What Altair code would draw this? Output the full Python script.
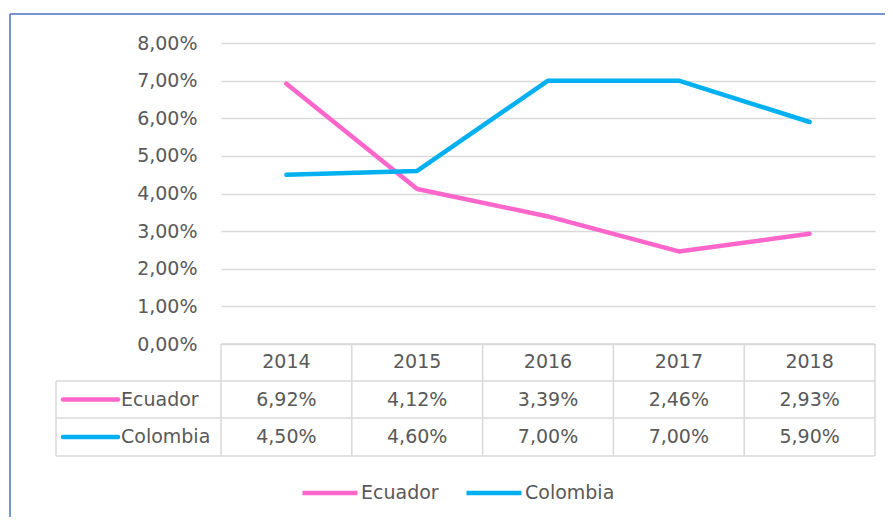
import altair as alt
import pandas as pd

# ---------------- data ----------------
years = ["2014", "2015", "2016", "2017", "2018"]
ecuador = [0.0692, 0.0412, 0.0339, 0.0246, 0.0293]
colombia = [0.0450, 0.0460, 0.0700, 0.0700, 0.0590]
series = ["Ecuador", "Colombia"]
colors = ["#FF66CC", "#00B0F0"]
y_ticks = [0.0, 0.01, 0.02, 0.03, 0.04, 0.05, 0.06, 0.07, 0.08]

# ---------------- style / layout ----------------
W, H = 654, 301
STEP = W / len(years)
FONT = "DejaVu Sans"
FS = 19
TXT = "#595959"
GRID = "#D9D9D9"
BORDER = "#4A72C4"
LBL_LEFT = -165          # left edge of the table's label column
ROW_TOPS = [301, 338, 375, 413]   # header top, row1 top, row2 top, bottom
HEADER_Y = 319
ROW_Y = [356.5, 394]
PCT = "replace(format(datum.value, '.2%'), '.', ',')"

rows = []
for s, vals in zip(series, [ecuador, colombia]):
    for yr, v in zip(years, vals):
        rows.append({"series": s, "year": yr, "value": v})
df = pd.DataFrame(rows)

x_enc = alt.X("year:O", scale=alt.Scale(type="point", padding=0.5, domain=years), axis=None)

lines = alt.Chart(df).mark_line(strokeWidth=4.5, strokeCap="round", strokeJoin="round").encode(
    x=x_enc,
    y=alt.Y(
        "value:Q",
        scale=alt.Scale(domain=[0, 0.08], nice=False),
        axis=alt.Axis(
            values=y_ticks, labelExpr=PCT, domain=False, ticks=False, grid=True,
            gridColor=GRID, gridWidth=1.3, labelPadding=24, labelFont=FONT,
            labelFontSize=FS, labelColor=TXT, title=None,
        ),
    ),
    color=alt.Color(
        "series:N",
        scale=alt.Scale(domain=series, range=colors),
        legend=alt.Legend(
            title=None, orient="none", direction="horizontal", legendX=79, legendY=420,
            symbolType="stroke", symbolSize=3025, symbolStrokeWidth=4.5,
            labelFont=FONT, labelFontSize=FS, labelColor=TXT, labelOffset=1,
            columnPadding=18, padding=0,
        ),
    ),
)

# table grid
vlines = alt.Chart(pd.DataFrame({"year": years})).mark_rule(
    color=GRID, strokeWidth=1.5, xOffset=-STEP / 2
).encode(x=x_enc, y=alt.value(ROW_TOPS[0]), y2=alt.value(ROW_TOPS[-1]))

right_line = alt.Chart(pd.DataFrame({"year": [years[-1]]})).mark_rule(
    color=GRID, strokeWidth=1.5, xOffset=STEP / 2
).encode(x=x_enc, y=alt.value(ROW_TOPS[0]), y2=alt.value(ROW_TOPS[-1]))

left_line = alt.Chart(pd.DataFrame({"year": [years[0]]})).mark_rule(color=GRID, strokeWidth=1.5).encode(
    x=alt.value(LBL_LEFT), y=alt.value(ROW_TOPS[1]), y2=alt.value(ROW_TOPS[-1])
)

hlines = []
for i, yy in enumerate(ROW_TOPS):
    x0 = 0 if i == 0 else LBL_LEFT
    hlines.append(
        alt.Chart(pd.DataFrame({"year": [years[0]]})).mark_rule(color=GRID, strokeWidth=1.5).encode(
            x=alt.value(x0), x2=alt.value(W), y=alt.value(yy)
        )
    )

header = alt.Chart(pd.DataFrame({"year": years})).mark_text(
    font=FONT, fontSize=FS, color=TXT, baseline="middle"
).encode(x=x_enc, y=alt.value(HEADER_Y), text="year:N")

cells = []
for s, col, ry in zip(series, colors, ROW_Y):
    base = alt.Chart(df).transform_filter(alt.datum.series == s)
    cells.append(
        base.transform_calculate(label=PCT).mark_text(
            font=FONT, fontSize=FS, color=TXT, baseline="middle"
        ).encode(x=x_enc, y=alt.value(ry), text="label:N")
    )
    one = alt.Chart(pd.DataFrame({"series": [s]}))
    cells.append(
        one.mark_rule(color=col, strokeWidth=4.5, strokeCap="round").encode(
            x=alt.value(LBL_LEFT + 7), x2=alt.value(LBL_LEFT + 62), y=alt.value(ry)
        )
    )
    cells.append(
        one.mark_text(font=FONT, fontSize=FS, color=TXT, baseline="middle", align="left").encode(
            x=alt.value(LBL_LEFT + 65), y=alt.value(ry), text="series:N"
        )
    )

# outer chart border (top and left edges visible)
bd = pd.DataFrame({"series": ["b"]})
border_top = alt.Chart(bd).mark_rule(color=BORDER, strokeWidth=1.5).encode(
    x=alt.value(-211), x2=alt.value(W + 20), y=alt.value(-29)
)
border_left = alt.Chart(bd).mark_rule(color=BORDER, strokeWidth=1.5).encode(
    x=alt.value(-211), y=alt.value(-29), y2=alt.value(H + 200)
)

chart = alt.layer(
    lines, vlines, right_line, left_line, *hlines, header, *cells, border_top, border_left
).properties(
    width=W, height=H,
    autosize=alt.AutoSizeParams(type="none"),
    padding={"left": 213, "top": 35, "right": 10, "bottom": 173},
).configure_view(stroke=None)

chart.save("out.html", embed_options={"renderer": "svg", "actions": False})
